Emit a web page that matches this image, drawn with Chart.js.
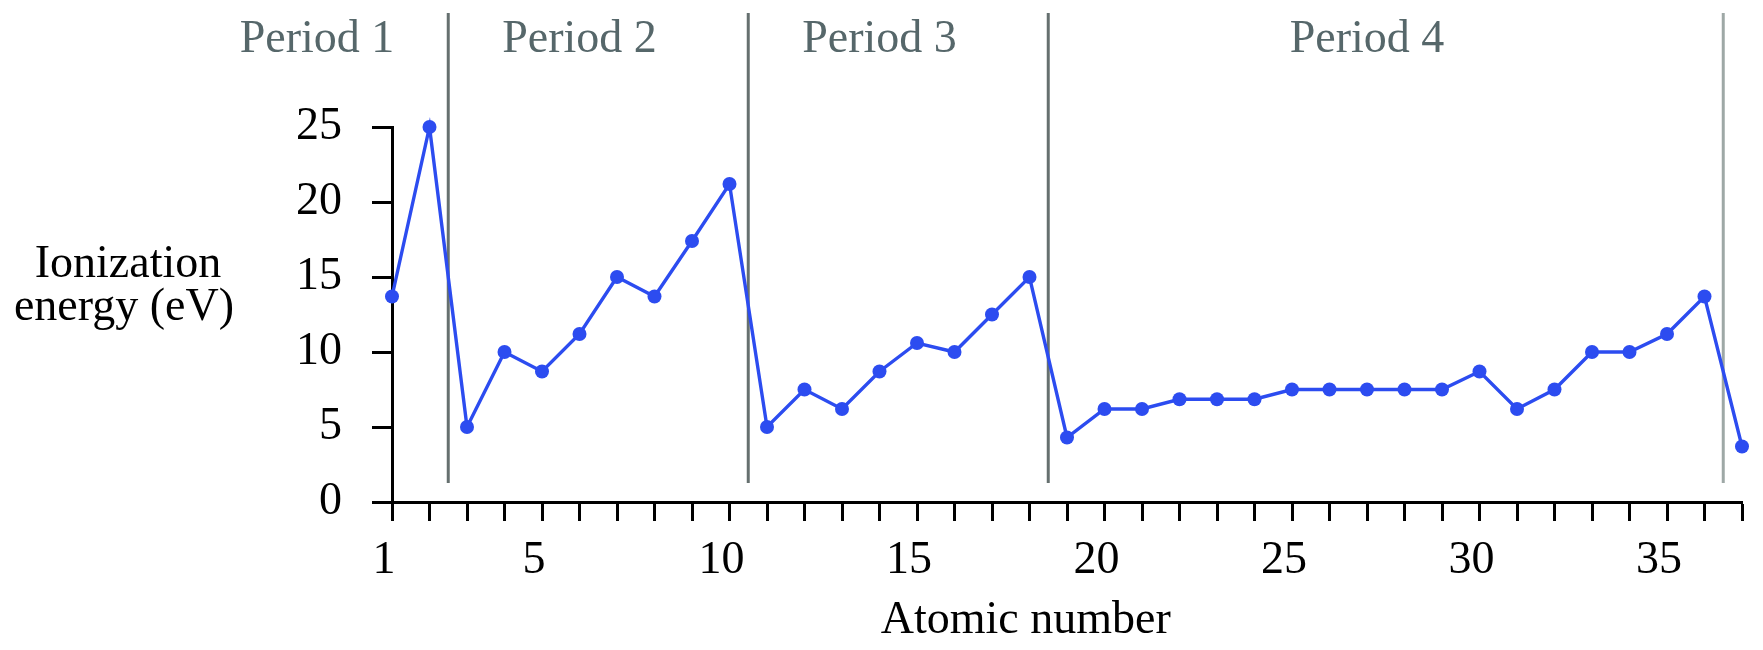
<!DOCTYPE html>
<html>
<head>
<meta charset="utf-8">
<script src="https://cdn.jsdelivr.net/npm/chart.js@4.4.1/dist/chart.umd.min.js"></script>
<style>
  html, body { margin: 0; padding: 0; background: #fff; }
  #wrap { width: 1763px; height: 650px; }
</style>
</head>
<body>
<div id="wrap"><canvas id="myChart" width="1763" height="650"></canvas></div>
<script>
//Chart data
var atomicNumbers = [1, 2, 3, 4, 5, 6, 7, 8, 9, 10, 11, 12, 13, 14, 15, 16, 17, 18, 19,
  20, 21, 22, 23, 24, 25, 26, 27, 28, 29, 30, 31, 32, 33, 34, 35, 36, 37];
var ionization = [13.7, 25, 5, 10, 8.7, 11.2, 15, 13.7, 17.4, 21.2, 5, 7.5, 6.2, 8.7, 10.6, 10,
  12.5, 15, 4.3, 6.2, 6.2, 6.85, 6.85, 6.85, 7.5, 7.5, 7.5, 7.5, 7.5, 8.7, 6.2, 7.5, 10, 10,
  11.2, 13.7, 3.7];
var xTickLabels = [1, 5, 10, 15, 20, 25, 30, 35];
var yTicks = [0, 5, 10, 15, 20, 25];

//Period bands
var periodNames = ['Period 1', 'Period 2', 'Period 3', 'Period 4'];
var periodCenters = [-1, 6, 14, 27];
var periodEdges = [2.5, 10.5, 18.5, 36.5];

var serif = '"Liberation Serif", "Times New Roman", serif';
var blue = '#2c4cf0';

//Draws period dividers, period names and axis titles
var periodPlugin = {
  id: 'periods',
  beforeDatasetsDraw: function (chart) {
    var ctx = chart.ctx;
    var x = chart.scales.x;
    ctx.save();
    ctx.lineWidth = 3;
    for (var i = 0; i < periodEdges.length; i++) {
      var px = x.getPixelForValue(periodEdges[i]);
      ctx.strokeStyle = i === periodEdges.length - 1 ? '#9ea8a6' : '#66706f';
      ctx.beginPath();
      ctx.moveTo(px, 13);
      ctx.lineTo(px, chart.chartArea.bottom - 19);
      ctx.stroke();
    }
    ctx.restore();
  },
  afterDraw: function (chart) {
    var ctx = chart.ctx;
    var x = chart.scales.x;
    ctx.save();
    ctx.font = '46px ' + serif;
    ctx.textAlign = 'center';
    ctx.textBaseline = 'alphabetic';
    ctx.fillStyle = '#56676a';
    for (var i = 0; i < periodNames.length; i++) {
      ctx.fillText(periodNames[i], x.getPixelForValue(periodCenters[i]), 52);
    }
    ctx.fillStyle = '#000';
    ctx.fillText('Ionization', 128, 277);
    ctx.fillText('energy (eV)', 124, 320);
    ctx.fillText('Atomic number', x.getPixelForValue(17.9), 633);
    ctx.restore();
  }
};

var ctx = document.getElementById('myChart').getContext('2d');

var myChart = new Chart(ctx, {
  type: 'line',
  data: {
    datasets: [{
      label: 'Ionization energy',
      data: atomicNumbers.map(function (n, i) { return { x: n, y: ionization[i] }; }),
      borderColor: blue,
      backgroundColor: blue,
      borderWidth: 3.4,
      pointRadius: 7,
      pointHoverRadius: 7,
      pointBorderWidth: 0,
      pointBackgroundColor: blue,
      tension: 0,
      clip: false
    }]
  },
  plugins: [periodPlugin],
  options: {
    responsive: false,
    animation: false,
    devicePixelRatio: 1,
    layout: { padding: { left: 0, right: 21, top: 127, bottom: 0 } },
    plugins: {
      legend: { display: false },
      tooltip: { enabled: false }
    },
    scales: {
      x: {
        type: 'linear',
        min: 1,
        max: 37,
        afterFit: function (scale) { scale.height = 148; },
        border: { color: '#000', width: 3 },
        grid: {
          drawOnChartArea: false,
          drawTicks: true,
          tickLength: 19,
          tickWidth: 3,
          tickColor: '#000'
        },
        ticks: {
          stepSize: 1,
          autoSkip: false,
          maxRotation: 0,
          padding: 12,
          labelOffset: -8,
          color: '#000',
          font: { family: serif, size: 46 },
          callback: function (v) { return xTickLabels.indexOf(v) >= 0 ? String(v) : ''; }
        }
      },
      y: {
        min: 0,
        max: 25,
        afterFit: function (scale) { scale.width = 392; },
        afterBuildTicks: function (scale) {
          scale.ticks = yTicks.map(function (v) { return { value: v }; });
        },
        border: { color: '#000', width: 3 },
        grid: {
          drawOnChartArea: false,
          drawTicks: true,
          tickLength: 20,
          tickWidth: 3,
          tickColor: '#000'
        },
        ticks: {
          padding: 30,
          color: '#000',
          font: { family: serif, size: 46 }
        }
      }
    }
  }
});
</script>
</body>
</html>
